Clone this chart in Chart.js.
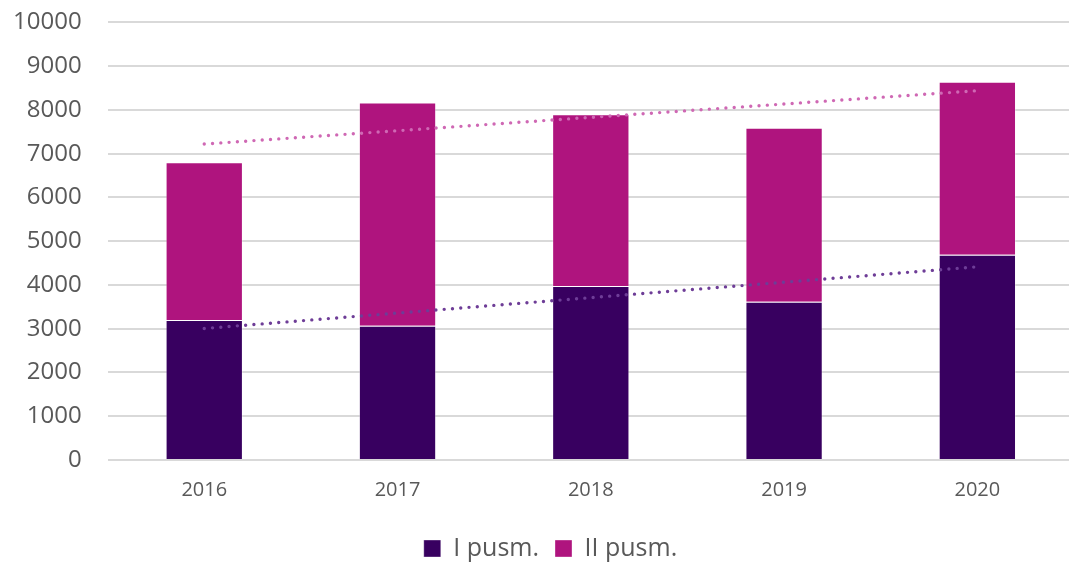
<!DOCTYPE html>
<html>
<head>
<meta charset="utf-8">
<script src="https://cdn.jsdelivr.net/npm/chart.js@4/dist/chart.umd.min.js"></script>
<style>
  html, body { margin: 0; padding: 0; background: #fff; overflow: hidden; }
  /* offset so the plot area lands where the original has it */
  #wrap { position: absolute; left: -13px; top: -18px; width: 1087px; height: 589px; }
</style>
</head>
<body>
<div id="wrap"><canvas id="chart"></canvas></div>
<script>
const years = ['2016', '2017', '2018', '2019', '2020'];
const firstHalf = [3200, 3070, 3975, 3615, 4690];
const secondHalf = [3605, 5100, 3925, 3980, 3955];
// trendline ends (first and last year only)
const trendFirst = [3005, null, null, null, 4415];
const trendTotal = [7220, null, null, null, 8440];

const textColor = '#595959';
const font = 'Open Sans';

// nudge the legend a bit right, like in the original
const legendShift = {
  id: 'legendShift',
  afterLayout(chart) {
    chart.legend.left += 20;
    chart.legend.right += 20;
  }
};

const ctx = document.getElementById('chart').getContext('2d');
new Chart(ctx, {
  type: 'bar',
  data: {
    labels: years,
    datasets: [
      {
        label: 'I pusm.',
        data: firstHalf,
        backgroundColor: '#380060',
        borderColor: 'rgba(255,255,255,0.35)',
        borderWidth: 1,
        barPercentage: 0.4,
        categoryPercentage: 1,
        order: 2
      },
      {
        label: 'II pusm.',
        data: secondHalf,
        backgroundColor: '#af147e',
        borderColor: 'rgba(255,255,255,0.35)',
        borderWidth: 1,
        barPercentage: 0.4,
        categoryPercentage: 1,
        order: 2
      },
      {
        type: 'line',
        label: 'trend I',
        data: trendFirst,
        stack: 'trendA',
        borderColor: '#6e3d97',
        borderWidth: 3.4,
        borderDash: [0, 8.3],
        borderCapStyle: 'round',
        pointRadius: 0,
        spanGaps: true,
        fill: false,
        order: 1
      },
      {
        type: 'line',
        label: 'trend total',
        data: trendTotal,
        stack: 'trendB',
        borderColor: '#cf68b4',
        borderWidth: 3.4,
        borderDash: [0, 8.3],
        borderCapStyle: 'round',
        pointRadius: 0,
        spanGaps: true,
        fill: false,
        order: 1
      }
    ]
  },
  options: {
    responsive: true,
    maintainAspectRatio: false,
    animation: false,
    layout: { padding: { left: 0, top: 8, right: 0, bottom: 0 } },
    scales: {
      x: {
        stacked: true,
        grid: { display: false, drawTicks: false },
        border: { display: false },
        ticks: { color: textColor, font: { family: font, size: 20 }, padding: 18 }
      },
      y: {
        stacked: true,
        min: 0,
        max: 10000,
        grid: { color: '#d9d9d9', lineWidth: 2, drawTicks: false },
        border: { display: false },
        ticks: {
          stepSize: 1000,
          color: textColor,
          font: { family: font, size: 24 },
          padding: 26,
          callback: (v) => String(v)
        }
      }
    },
    plugins: {
      tooltip: { enabled: false },
      legend: {
        position: 'bottom',
        labels: {
          color: textColor,
          font: { family: font, size: 25 },
          boxWidth: 17,
          boxHeight: 17,
          padding: 16,
          filter: (item) => item.datasetIndex < 2
        }
      }
    }
  },
  plugins: [legendShift]
});
</script>
</body>
</html>
